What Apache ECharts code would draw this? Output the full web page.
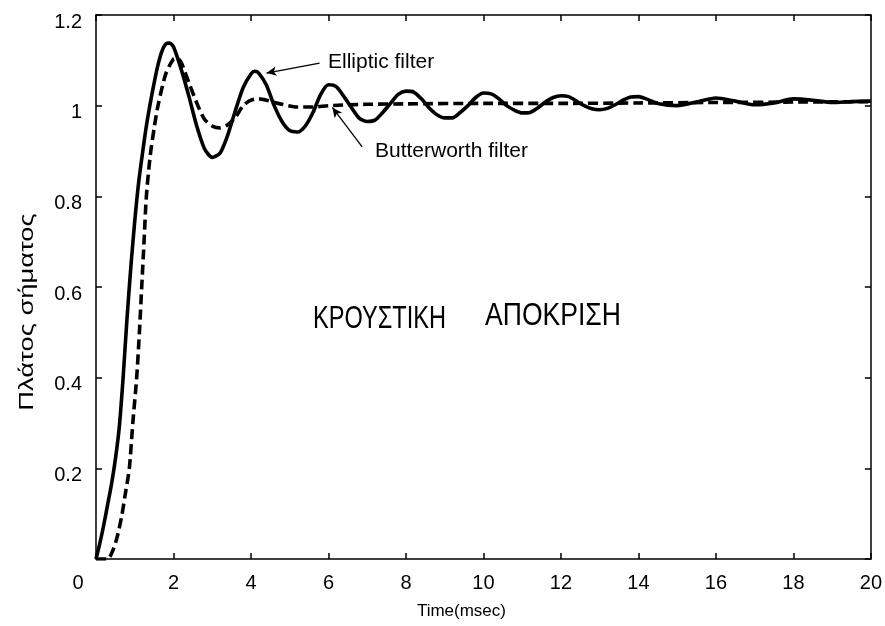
<!DOCTYPE html>
<html>
<head>
<meta charset="utf-8">
<script src="https://cdn.jsdelivr.net/npm/echarts@6/dist/echarts.min.js"></script>
<style>
  html, body { margin: 0; padding: 0; background: #fff; }
  #chart { width: 885px; height: 626px; }
</style>
</head>
<body>
<div id="chart"></div>
<script>
// Step responses of the two filters (time in msec, normalised amplitude)
const ellipticTime = [0, 0.1, 0.2, 0.3, 0.4, 0.5, 0.6, 0.7, 0.8, 0.9, 1.0, 1.1, 1.2, 1.3, 1.4, 1.5, 1.6, 1.7, 1.8, 1.9, 2.0, 2.2, 2.4, 2.6, 2.8, 3.0, 3.2, 3.4, 3.6, 3.8, 4.0, 4.1, 4.2, 4.4, 4.6, 4.8, 5.0, 5.2, 5.4, 5.6, 5.8, 6.0, 6.2, 6.4, 6.6, 6.8, 7.0, 7.2, 7.4, 7.6, 7.8, 8.0, 8.2, 8.4, 8.6, 8.8, 9.0, 9.2, 9.4, 9.6, 9.8, 10.0, 10.2, 10.4, 10.6, 10.8, 11.0, 11.2, 11.4, 11.6, 11.8, 12.0, 12.2, 12.4, 12.6, 12.8, 13.0, 13.2, 13.4, 13.6, 13.8, 14.0, 14.2, 14.5, 15.0, 15.5, 16.0, 16.5, 17.0, 17.5, 18.0, 18.5, 19.0, 19.5, 20.0];
const ellipticAmp = [0, 0.035, 0.075, 0.12, 0.165, 0.22, 0.29, 0.40, 0.53, 0.645, 0.745, 0.83, 0.895, 0.955, 1.005, 1.05, 1.09, 1.12, 1.136, 1.138, 1.13, 1.08, 1.02, 0.955, 0.905, 0.886, 0.895, 0.935, 0.99, 1.04, 1.07, 1.076, 1.072, 1.045, 1.0, 0.965, 0.945, 0.942, 0.955, 0.985, 1.025, 1.046, 1.042, 1.02, 0.995, 0.972, 0.965, 0.968, 0.985, 1.005, 1.025, 1.032, 1.03, 1.015, 0.995, 0.98, 0.973, 0.973, 0.985, 1.0, 1.018, 1.028, 1.026, 1.015, 1.0, 0.99, 0.984, 0.985, 0.995, 1.008, 1.018, 1.022, 1.02, 1.01, 1.0, 0.993, 0.991, 0.994, 1.002, 1.012, 1.019, 1.02, 1.015, 1.005, 1.0, 1.008, 1.017, 1.01, 1.002, 1.006, 1.015, 1.012, 1.007, 1.009, 1.01];

const butterTime = [0, 0.3, 0.44, 0.55, 0.66, 0.75, 0.86, 0.95, 1.05, 1.12, 1.18, 1.24, 1.30, 1.4, 1.5, 1.6, 1.8, 2.0, 2.1, 2.2, 2.4, 2.63, 2.8, 3.0, 3.2, 3.4, 3.6, 3.8, 4.0, 4.2, 4.4, 4.8, 5.2, 5.6, 6.0, 7.0, 8.0, 10.0, 12.0, 14.0, 16.0, 18.0, 20.0];
const butterAmp = [0, 0, 0.02, 0.05, 0.093, 0.14, 0.2, 0.3, 0.4, 0.5, 0.6, 0.7, 0.8, 0.89, 0.95, 1.0, 1.07, 1.103, 1.105, 1.095, 1.05, 1.0, 0.97, 0.955, 0.951, 0.958, 0.975, 1.0, 1.012, 1.015, 1.012, 1.003, 0.997, 0.997, 1.0, 1.003, 1.004, 1.005, 1.005, 1.006, 1.007, 1.008, 1.009];

// Axis ticks
const xTicks = [0, 2, 4, 6, 8, 10, 12, 14, 16, 18, 20];
const yTicks = [0, 0.2, 0.4, 0.6, 0.8, 1, 1.2];

// Annotation arrows: [start, end] in data units
const ellipticArrow = [[5.77, 1.094], [4.40, 1.072]];
const butterArrow = [[6.87, 0.909], [6.10, 0.996]];

const FONT = 'Liberation Sans, Arial, sans-serif';
const toPairs = (xs, ys) => xs.map((x, i) => [x, ys[i]]);

const chart = echarts.init(document.getElementById('chart'), null, { renderer: 'canvas' });

const axisLine = { show: true, onZero: false, lineStyle: { color: '#000', width: 1.5 } };
const axisTick = { show: true, inside: true, length: 6, lineStyle: { color: '#000', width: 1.5 } };

const option = {
  backgroundColor: '#fff',
  animation: false,
  grid: { left: 96, right: 12, top: 15, bottom: 67, containLabel: false },
  xAxis: [
    {
      type: 'value', min: xTicks[0], max: xTicks[xTicks.length - 1], interval: 2,
      position: 'bottom',
      name: 'Time(msec)', nameLocation: 'middle', nameGap: 44,
      nameTextStyle: { fontFamily: FONT, fontSize: 17, color: '#000', padding: [0, 44, 0, 0] },
      axisLine, axisTick, splitLine: { show: false },
      axisLabel: {
        fontFamily: FONT, fontSize: 20, color: '#000', margin: 14,
        formatter: v => v === 0 ? '{z|0}' : String(v),
        rich: { z: { fontFamily: FONT, fontSize: 20, color: '#000', padding: [0, 36, 0, 0] } }
      }
    },
    {
      type: 'value', min: xTicks[0], max: xTicks[xTicks.length - 1], interval: 2,
      position: 'top', axisLine, axisTick, axisLabel: { show: false }, splitLine: { show: false }
    }
  ],
  yAxis: [
    {
      type: 'value', min: yTicks[0], max: yTicks[yTicks.length - 1], interval: 0.2,
      position: 'left', axisLine, axisTick, splitLine: { show: false },
      axisLabel: {
        margin: 14,
        formatter: v => v === 0 ? '' : '{a|' + String(Math.round(v * 10) / 10) + '}',
        rich: { a: { fontFamily: FONT, fontSize: 20, color: '#000', padding: [14, 0, 0, 0] } }
      }
    },
    {
      type: 'value', min: yTicks[0], max: yTicks[yTicks.length - 1], interval: 0.2,
      position: 'right', axisLine, axisTick, axisLabel: { show: false }, splitLine: { show: false }
    }
  ],
  series: [
    {
      name: 'Elliptic filter', type: 'line', smooth: 0.25, symbol: 'none',
      data: toPairs(ellipticTime, ellipticAmp),
      lineStyle: { color: '#000', width: 3.6 },
      markLine: {
        silent: true, symbol: ['none', 'arrow'], symbolSize: [7, 10],
        label: { show: false },
        lineStyle: { color: '#000', width: 1.3, type: 'solid' },
        data: [[{ coord: ellipticArrow[0] }, { coord: ellipticArrow[1] }]]
      }
    },
    {
      name: 'Butterworth filter', type: 'line', smooth: 0.25, symbol: 'none',
      data: toPairs(butterTime, butterAmp),
      lineStyle: { color: '#000', width: 3.6, type: [10, 5] },
      markLine: {
        silent: true, symbol: ['none', 'arrow'], symbolSize: [7, 10],
        label: { show: false },
        lineStyle: { color: '#000', width: 1.3, type: 'solid' },
        data: [[{ coord: butterArrow[0] }, { coord: butterArrow[1] }]]
      }
    }
  ],
  graphic: [
    { type: 'text', left: 328, top: 52, style: { text: 'Elliptic filter', font: '21px ' + FONT, fill: '#000' } },
    { type: 'text', left: 375, top: 141, style: { text: 'Butterworth filter', font: '21px ' + FONT, fill: '#000' } },
    {
      type: 'text', x: 313, y: 319, scaleX: 0.76,
      style: { text: 'ΚΡΟΥΣΤΙΚΗ', font: '31px ' + FONT, fill: '#000', verticalAlign: 'middle' }
    },
    {
      type: 'text', x: 485, y: 316, scaleX: 0.83,
      style: { text: 'ΑΠΟΚΡΙΣΗ', font: '32px ' + FONT, fill: '#000', verticalAlign: 'middle' }
    },
    {
      type: 'text', x: 27, y: 312, rotation: Math.PI / 2, scaleX: 1.3,
      style: { text: 'Πλάτος σήματος', font: '21px ' + FONT, fill: '#000', align: 'center', verticalAlign: 'middle' }
    }
  ]
};

chart.setOption(option);
</script>
</body>
</html>
